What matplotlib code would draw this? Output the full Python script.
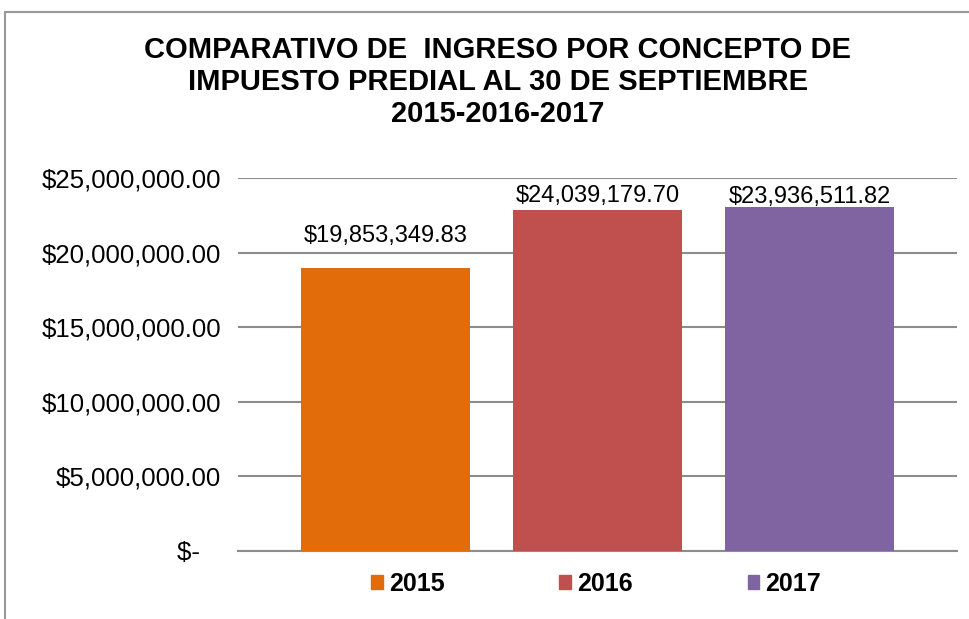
import matplotlib
matplotlib.use("Agg")
import matplotlib.pyplot as plt
from matplotlib.patches import Rectangle, Patch
from matplotlib.ticker import FixedLocator

plt.rcParams["font.family"] = ["Liberation Sans", "DejaVu Sans"]

# ---- data ----
years = ["2015", "2016", "2017"]
bar_values = [18_970_000, 22_860_000, 23_060_000]
bar_labels = ["$19,853,349.83", "$24,039,179.70", "$23,936,511.82"]
colors = ["#E36C0A", "#C0504D", "#8064A2"]
y_ticks = [0, 5_000_000, 10_000_000, 15_000_000, 20_000_000, 25_000_000]
y_tick_labels = ["$-   ", "$5,000,000.00", "$10,000,000.00", "$15,000,000.00",
                 "$20,000,000.00", "$25,000,000.00"]
title = ("COMPARATIVO DE  INGRESO POR CONCEPTO DE\n"
         "IMPUESTO PREDIAL AL 30 DE SEPTIEMBRE\n"
         "2015-2016-2017")

label_pad = [26, 8, 4]  # pixels between bar top and label baseline

W, H = 970, 619
fig = plt.figure(figsize=(W / 100, H / 100), dpi=100)

# outer chart border
fig.patches.append(Rectangle((5 / W, -0.1), 1.2, 1 - 12 / H + 0.1,
                             transform=fig.transFigure, fill=False,
                             edgecolor="#999999", linewidth=1.5))

ax = fig.add_axes([238 / W, 1 - 551 / H, 719 / W, (551 - 178) / H])
x = list(range(len(years)))
bars = ax.bar(x, bar_values, width=0.80, color=colors, zorder=3)

for b, lab, pad in zip(bars, bar_labels, label_pad):
    ax.annotate(lab, (b.get_x() + b.get_width() / 2, b.get_height()),
                xytext=(0, pad), textcoords="offset pixels",
                ha="center", va="baseline", fontsize=17)

ax.set_xlim(1 - 1.696, 1 + 1.696)
ax.set_ylim(0, 25_000_000)
ax.yaxis.set_major_locator(FixedLocator(y_ticks))
ax.set_yticklabels(y_tick_labels, fontsize=18.6)
ax.set_xticks([])
ax.tick_params(axis="y", length=0, pad=12)
ax.grid(axis="y", color="#8c8c8c", linewidth=1.5, zorder=0)
for s in ["top", "right", "left"]:
    ax.spines[s].set_visible(False)
ax.spines["bottom"].set_color("#8c8c8c")
ax.spines["bottom"].set_linewidth(1.5)

fig.text(498 / W, 1 - 82 / H, title, ha="center", va="center",
         fontsize=21, fontweight="bold", linespacing=1.2)

handles = [Patch(color=c, label=y) for c, y in zip(colors, years)]
fig.legend(handles=handles, loc="center", bbox_to_anchor=(596 / W, 1 - 584 / H),
           ncol=3, frameon=False, prop={"size": 18, "weight": "bold"},
           handlelength=0.45, handleheight=0.45, handletextpad=0.25,
           columnspacing=4.6)

fig.savefig("out.png", dpi=100)
